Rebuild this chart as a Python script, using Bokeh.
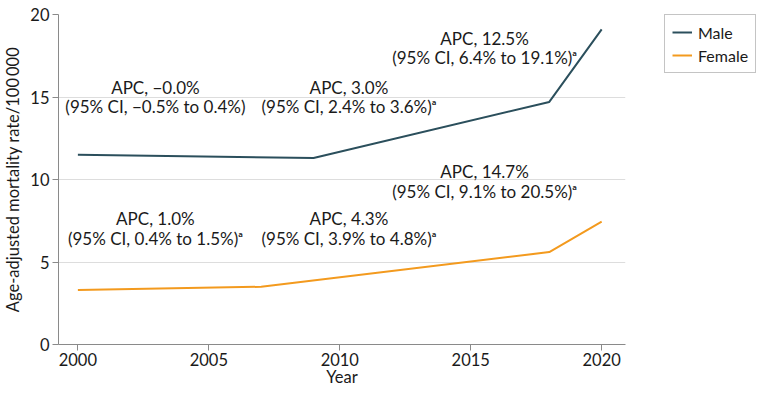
from bokeh.plotting import figure
from bokeh.models import Legend, LegendItem, Range1d, FixedTicker, ColumnDataSource
from bokeh.layouts import row
from bokeh.core.properties import value
from bokeh.embed import file_html
from bokeh.resources import INLINE

# ---- data ----
male_years = [2000, 2009, 2018, 2020]
male_rate = [11.5, 11.3, 14.7, 19.1]
female_years = [2000, 2007, 2018, 2020]
female_rate = [3.3, 3.5, 5.6, 7.45]

x_ticks = [2000, 2005, 2010, 2015, 2020]
y_ticks = [0, 5, 10, 15, 20]

series_labels = ["Male", "Female"]

male_apc_line1 = ["APC, \u22120.0%", "APC, 3.0%", "APC, 12.5%"]
male_apc_line2 = ["(95% CI, \u22120.5% to 0.4%)", "(95% CI, 2.4% to 3.6%)\u1d43", "(95% CI, 6.4% to 19.1%)\u1d43"]
female_apc_line1 = ["APC, 1.0%", "APC, 4.3%", "APC, 14.7%"]
female_apc_line2 = ["(95% CI, 0.4% to 1.5%)\u1d43", "(95% CI, 3.9% to 4.8%)\u1d43", "(95% CI, 9.1% to 20.5%)\u1d43"]

# annotation anchor positions (data units)
ann_x = [2002.96, 2010.35, 2015.53]
male_y1 = [15.57, 15.57, 18.56]
male_y2 = [14.42, 14.42, 17.4]
female_y1 = [7.65, 7.65, 10.46]
female_y2 = [6.42, 6.42, 9.27]

FONT = "Lato"
MALE_C = "#2b4f5c"
FEMALE_C = "#f39a1e"
TXT_C = "#1a1a1a"
AX_C = "#8a8a8a"

H = 390
P_W = 633
L_W = 124
p = figure(width=P_W, height=H, output_backend="svg", toolbar_location=None,
           x_range=Range1d(1999.26, 2020.91), y_range=Range1d(0, 20),
           min_border_left=50, min_border_right=8, min_border_top=10, min_border_bottom=46)
p.outline_line_color = None
p.background_fill_color = "white"
p.border_fill_color = "white"

p.line(male_years, male_rate, line_color=MALE_C, line_width=2)
p.line(female_years, female_rate, line_color=FEMALE_C, line_width=2)

for ys1, ys2, l1, l2 in [(male_y1, male_y2, male_apc_line1, male_apc_line2),
                         (female_y1, female_y2, female_apc_line1, female_apc_line2)]:
    for ys, ls in ((ys1, l1), (ys2, l2)):
        src = ColumnDataSource(dict(x=ann_x, y=ys, t=ls))
        p.text(x="x", y="y", text="t", source=src, text_align="center", text_baseline="middle",
               text_font=value(FONT), text_font_size="17px", text_color=TXT_C)

p.xaxis.ticker = FixedTicker(ticks=x_ticks)
p.yaxis.ticker = FixedTicker(ticks=y_ticks)
p.xgrid.grid_line_color = None
p.ygrid.grid_line_color = "#dddddd"
p.ygrid.grid_line_width = 1

for ax in (p.xaxis[0], p.yaxis[0]):
    ax.axis_line_color = AX_C
    ax.major_tick_line_color = AX_C
    ax.major_tick_out = 6
    ax.major_tick_in = 0
    ax.minor_tick_line_color = None
    ax.major_label_text_font = FONT
    ax.major_label_text_font_size = "16.5px"
    ax.major_label_text_color = TXT_C
    ax.axis_label_text_font = FONT
    ax.axis_label_text_font_size = "16.5px"
    ax.axis_label_text_font_style = "normal"
    ax.axis_label_text_color = TXT_C

p.xaxis.axis_label = "Year"
p.yaxis.axis_label = "Age-adjusted mortality rate/100\u2009000"
p.xaxis.major_label_standoff = 2
p.yaxis.major_label_standoff = 3
p.xaxis.axis_label_standoff = -2
p.yaxis.axis_label_standoff = 4

# legend panel (separate figure to the right of the plot)
lg = figure(width=L_W, height=H, output_backend="svg", toolbar_location=None,
            x_range=Range1d(0, 1), y_range=Range1d(0, 1),
            min_border_left=31, min_border_right=0, min_border_top=14, min_border_bottom=0)
lg.axis.visible = False
lg.grid.visible = False
lg.outline_line_color = None
# legend proxies: same series, drawn outside this panel's visible range
lm = lg.line(male_years, male_rate, line_color=MALE_C, line_width=2)
lf = lg.line(female_years, female_rate, line_color=FEMALE_C, line_width=2)
legend = Legend(items=[LegendItem(label=series_labels[0], renderers=[lm]),
                       LegendItem(label=series_labels[1], renderers=[lf])],
                location="top_left", margin=0, padding=7, spacing=3,
                label_text_font=FONT, label_text_font_size="16px", label_text_color=TXT_C,
                glyph_width=20, glyph_height=20, label_height=20, label_standoff=6,
                border_line_color=AX_C, border_line_width=1, background_fill_color="white")
lg.add_layout(legend, "center")

layout = row(p, lg, spacing=0)
open("out.html", "w").write(file_html(layout, INLINE))
